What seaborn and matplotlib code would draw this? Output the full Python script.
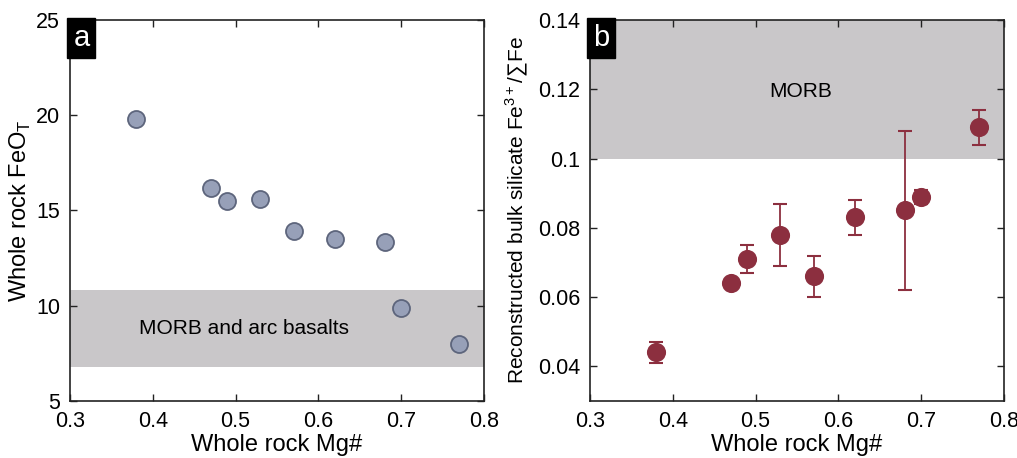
import numpy as np
import pandas as pd
import seaborn as sns
import matplotlib.pyplot as plt

# panel a
mg_a = [0.38, 0.47, 0.49, 0.53, 0.57, 0.62, 0.68, 0.70, 0.77]
feot = [19.8, 16.2, 15.5, 15.6, 13.9, 13.5, 13.35, 9.9, 8.0]

# panel b
mg_b = [0.38, 0.47, 0.49, 0.53, 0.57, 0.62, 0.68, 0.70, 0.77]
fe3 = [0.044, 0.064, 0.071, 0.078, 0.066, 0.083, 0.085, 0.089, 0.109]
fe3_lo = [0.041, 0.063, 0.067, 0.069, 0.060, 0.078, 0.062, 0.087, 0.104]
fe3_hi = [0.047, 0.065, 0.075, 0.087, 0.072, 0.088, 0.108, 0.091, 0.114]

sns.set_theme(style="ticks")
plt.rcParams['font.family'] = ['Liberation Sans', 'DejaVu Sans']
plt.rcParams.update({"text.color": "black", "axes.labelcolor": "black",
                     "xtick.color": "black", "ytick.color": "black",
                     "mathtext.fontset": "custom", "mathtext.rm": "Liberation Sans"})

fig = plt.figure(figsize=(10.17, 4.58), dpi=100)
ax1 = fig.add_axes([0.0688, 0.1245, 0.4072, 0.8318])
ax2 = fig.add_axes([0.5801, 0.1245, 0.4071, 0.8318])

band = "#c9c7c9"

# --- a ---
ax1.axhspan(6.8, 10.8, color=band, lw=0, zorder=0)
df_a = pd.DataFrame({"mg": mg_a, "feot": feot})
sns.scatterplot(data=df_a, x="mg", y="feot", ax=ax1, s=150, color="#97a0b8",
                edgecolor="#5d657c", linewidth=1.3, zorder=3)
ax1.text(0.51, 8.8, "MORB and arc basalts", fontsize=15, ha="center", va="center")
ax1.set_xlim(0.3, 0.8)
ax1.set_ylim(5, 25)
ax1.set_yticks([5, 10, 15, 20, 25])
ax1.set_xlabel("Whole rock Mg#", fontsize=17, labelpad=2)
ax1.set_ylabel("Whole rock FeO$_\\mathregular{T}$", fontsize=17, labelpad=2)

# --- b ---
ax2.axhspan(0.10, 0.14, color=band, lw=0, zorder=0)
err = [np.array(fe3) - np.array(fe3_lo), np.array(fe3_hi) - np.array(fe3)]
ax2.errorbar(mg_b, fe3, yerr=err, fmt="none", ecolor="#8c2f3f", elinewidth=1.3,
             capsize=5, capthick=1.5, zorder=2)
df_b = pd.DataFrame({"mg": mg_b, "fe3": fe3})
sns.scatterplot(data=df_b, x="mg", y="fe3", ax=ax2, s=190, color="#8c2f3f",
                edgecolor="#8c2f3f", linewidth=0, zorder=3)
ax2.text(0.555, 0.1195, "MORB", fontsize=15, ha="center", va="center")
ax2.set_xlim(0.3, 0.8)
ax2.set_ylim(0.03, 0.14)
ax2.set_yticks([0.04, 0.06, 0.08, 0.1, 0.12, 0.14])
ax2.set_yticklabels(["0.04", "0.06", "0.08", "0.1", "0.12", "0.14"])
ax2.set_xlabel("Whole rock Mg#", fontsize=17, labelpad=2)
ax2.set_ylabel("Reconstructed bulk silicate Fe$^\\mathregular{3+}$/\u2211Fe",
               fontsize=15, labelpad=6)

for ax, lab in [(ax1, "a"), (ax2, "b")]:
    ax.set_xticks([0.3, 0.4, 0.5, 0.6, 0.7, 0.8])
    ax.set_xticklabels(["0.3", "0.4", "0.5", "0.6", "0.7", "0.8"])
    ax.tick_params(direction="in", top=True, right=True, labelsize=15.5,
                   length=5, width=1, color="#222222", pad=7)
    for sp in ax.spines.values():
        sp.set_linewidth(1.2)
        sp.set_color("#222222")
    ax.text(0.008, 0.99, lab, transform=ax.transAxes, fontsize=21, color="white",
            ha="left", va="top",
            bbox=dict(boxstyle="square,pad=0.2", fc="black", ec="black"))

fig.savefig("out.png", dpi=100)
